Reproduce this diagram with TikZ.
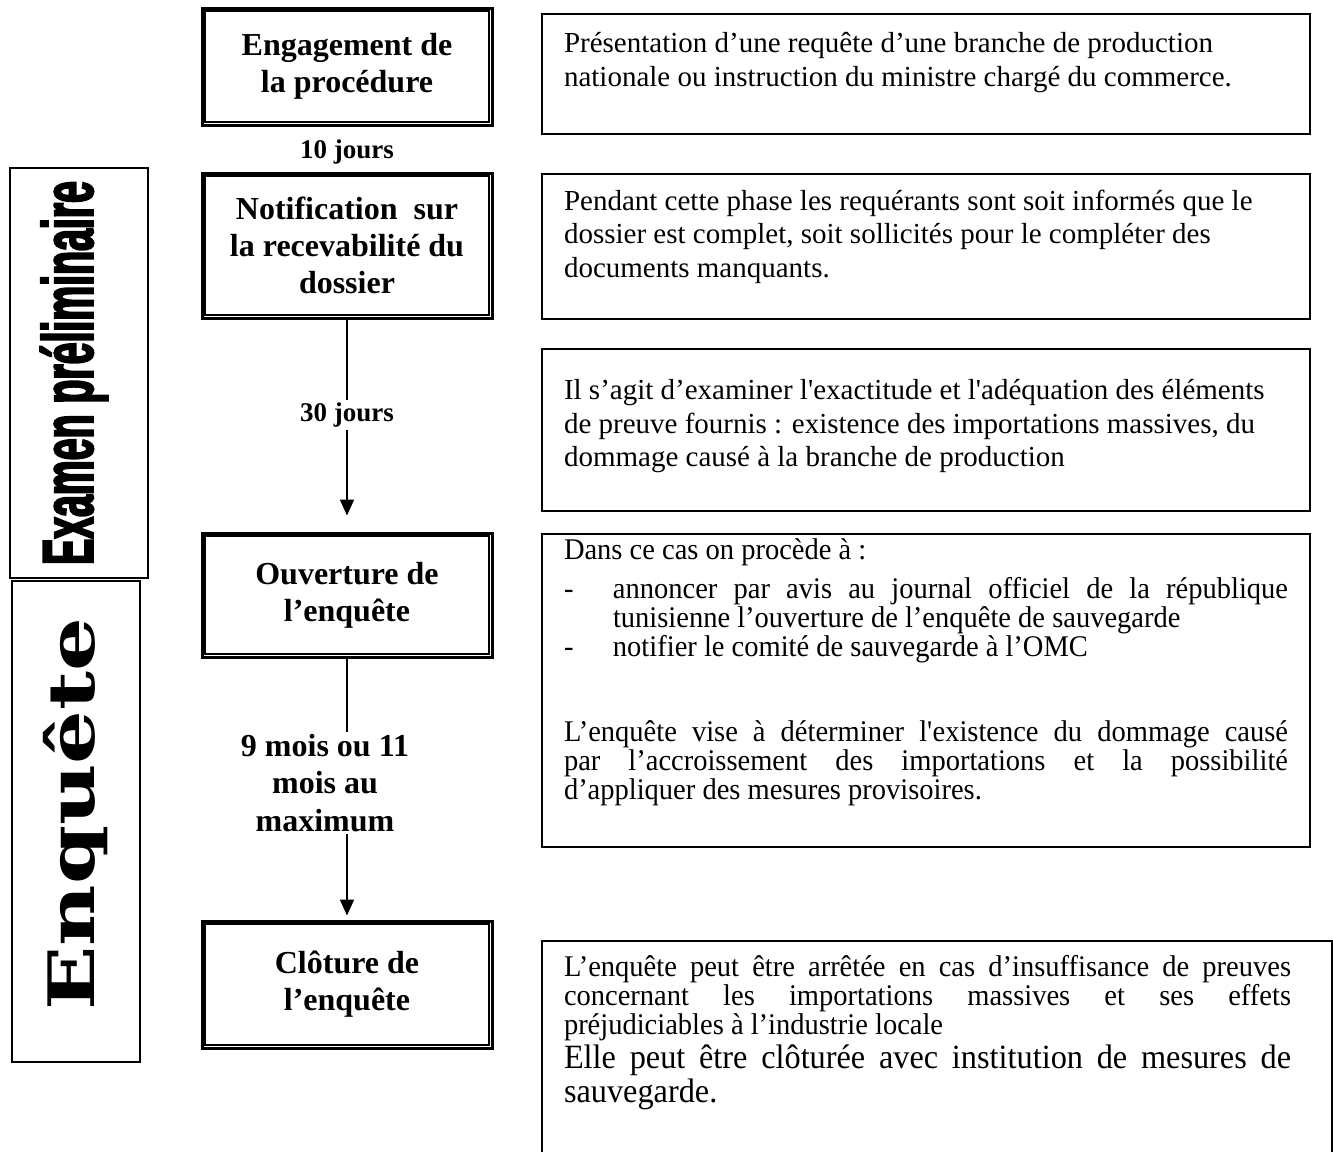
\documentclass[tikz,border=0pt]{standalone}
\usepackage{fontspec}
\setmainfont{Liberation Serif}
\newfontfamily\condserif[FakeStretch=0.95]{Liberation Serif}
\newfontfamily\examfont[FakeStretch=0.545,FakeBold=2.5]{Liberation Sans}
\newfontfamily\enqfont[FakeStretch=1.32]{DejaVu Serif}
\usetikzlibrary{positioning,arrows.meta}
\hyphenpenalty=10000
\exhyphenpenalty=10000
\newcommand{\desc}[3][362pt]{\parbox[c][#2][t]{#1}{#3}}
\newcommand{\plain}{\fontsize{14.5}{16.75}\selectfont\lineskiplimit=-5pt}
\newcommand{\cond}{\condserif\fontsize{15}{14.5}\selectfont\lineskiplimit=-5pt}
\newcommand{\sq}{\textquotesingle}
\tikzset{
  phase/.style={
    draw,
    line width=1.5pt,
    minimum width=145pt,
    align=center,
    font=\bfseries\fontsize{16}{18.5}\selectfont
  },
  delai/.style={
    inner sep=1pt,
    align=center,
    font=\bfseries\fontsize{13.5}{18.75}\selectfont
  },
  desc/.style={
    draw,
    line width=1pt,
    anchor=north west,
    inner xsep=11pt,
    inner ysep=0pt
  },
  etape/.style={
    draw,
    line width=1pt,
    rotate=90
  },
  flow/.style={
    line width=1pt
  }
}

\begin{document}
\begin{tikzpicture}[x=0.5pt,y=-0.5pt]
        \useasboundingbox (0,0) rectangle (1333,1151);

        % les phases
        \node [etape, minimum width=205pt, minimum height=69pt] (examen) at (79,373) {\raisebox{2.5pt}[\height][\depth]{\examfont\bfseries\fontsize{36}{40}\selectfont Examen préliminaire}};
        \node [etape, minimum width=240.5pt, minimum height=64pt] (enquete) at (76,821.5) {\hspace{7.5pt}\enqfont\bfseries\fontsize{32}{36}\selectfont Enquête};

        % la procedure
        \node [phase, minimum height=58.5pt] (engage) at (347,66.5) {Engagement de\\la procédure};
        \node [delai, on grid, below=42.75pt of engage] (j10) {10 jours};
        \node [phase, minimum height=72.5pt, on grid, below=89.5pt of engage] (notif) {Notification~ sur\\la recevabilité du\\dossier};
        \node [delai, on grid, below=84.75pt of notif] (j30) {30 jours};
        \node [phase, minimum height=62pt, on grid, below=174.75pt of notif] (ouvert) {Ouverture de\\l’enquête};
        \node [delai, on grid, below left=94pt and 11pt of ouvert, font=\bfseries\fontsize{16}{18.75}\selectfont] (mois) {9 mois ou 11\\mois au\\maximum};
        \node [phase, minimum height=63.5pt, on grid, below=194.75pt of ouvert] (cloture) {Clôture de\\l’enquête};
        \foreach \n in {engage,notif,ouvert,cloture}
          \draw [line width=0.7pt] ([xshift=2.2pt,yshift=-2.2pt]\n.north west) rectangle ([xshift=-2.2pt,yshift=2.2pt]\n.south east);

        \draw [flow] (notif) -- (j30);
        \draw [flow, -{Triangle[length=8pt,width=7pt]}, shorten >=8pt] (j30) -- (ouvert);
        \draw [flow] (ouvert) -- (ouvert.south |- mois.north);
        \draw [flow, -{Triangle[length=8pt,width=7pt]}, shorten >=2pt] (ouvert.south |- mois.south) -- (cloture);

        % les explications
        \node [desc] (present) at (541,13) {\desc{60pt}{\plain\vspace*{9.4pt}%
          Présentation d’une requête d’une branche de production\\
          nationale ou instruction du ministre chargé du commerce.}};
        \node [desc] (pendant) at (541,173) {\desc{72.5pt}{\plain\vspace*{7.9pt}%
          Pendant cette phase les requérants sont soit informés que le\\
          dossier est complet, soit sollicités pour le compléter des\\
          documents manquants.}};
        \node [desc] (preuve) at (541,348) {\desc{81pt}{\plain\vspace*{15.4pt}%
          Il s’agit d’examiner l\sq exactitude et l\sq adéquation des éléments\\
          de preuve fournis : existence des importations massives, du\\
          dommage causé à la branche de production}};
        \node [desc] (procede) at (541,533) {\desc{156.5pt}{\cond\vspace*{2.5pt}%
          Dans ce cas on procède à :\par\vspace{5pt}
          \hangindent=24.5pt\hangafter=1\noindent\makebox[24.5pt][l]{-}annoncer par avis au journal officiel de la république\linebreak
          tunisienne l’ouverture de l’enquête de sauvegarde\par
          \hangindent=24.5pt\hangafter=1\noindent\makebox[24.5pt][l]{-}notifier le comité de sauvegarde à l’OMC\par\vspace{28pt}
          L’enquête vise à déterminer l\sq existence du dommage causé\linebreak
          par l’accroissement des importations et la possibilité\linebreak
          d’appliquer des mesures provisoires.}};
        \node [desc] (arret) at (541,940) {\desc[373pt]{110pt}{\cond\rightskip=9.5pt\vspace*{7.4pt}%
          L’enquête peut être arrêtée en cas d’insuffisance de preuves\linebreak
          concernant les importations massives et ses effets\linebreak
          préjudiciables à l’industrie locale\par
          {\condserif\fontsize{17}{17}\selectfont Elle peut être clôturée avec institution de mesures de\linebreak
          sauvegarde.\par}}};
      \end{tikzpicture}
\end{document}
